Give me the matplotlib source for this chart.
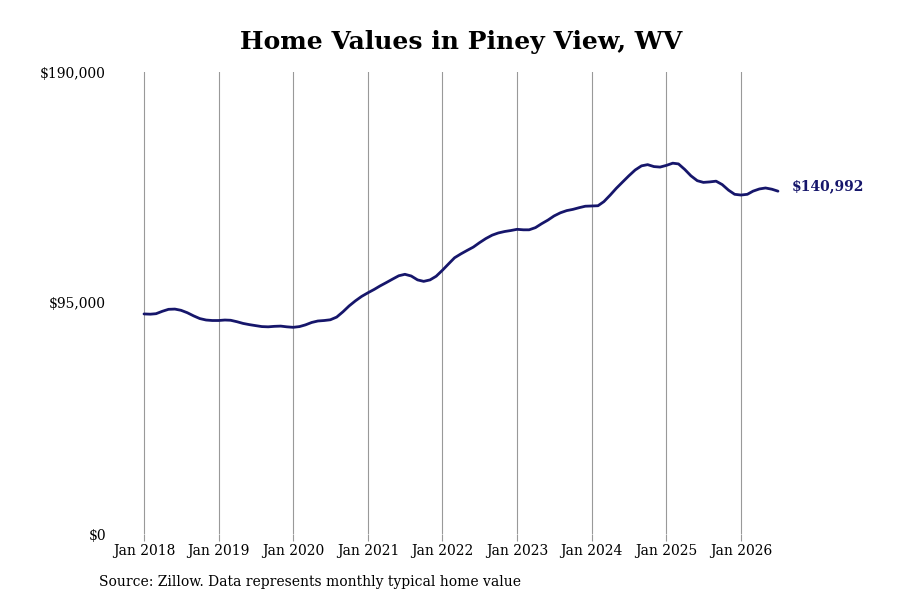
import matplotlib
matplotlib.use("Agg")
import matplotlib.pyplot as plt
import matplotlib.dates as mdates
import numpy as np
import pandas as pd

start_month = "2018-01-01"
values_k = [
    # 2018
    90.5, 90.4, 90.6, 91.6, 92.4, 92.5, 92.0, 91.0, 89.7, 88.6, 88.0, 87.8,
    # 2019
    87.8, 88.0, 87.9, 87.3, 86.6, 86.1, 85.7, 85.3, 85.2, 85.4, 85.5, 85.2,
    # 2020
    85.0, 85.3, 86.0, 87.0, 87.6, 87.8, 88.1, 89.2, 91.4, 93.8, 95.9, 97.7,
    # 2021
    99.2, 100.6, 102.0, 103.4, 104.8, 106.2, 106.8, 106.1, 104.5, 103.9, 104.5, 106.0,
    # 2022
    108.5, 111.2, 113.6, 115.2, 116.6, 118.0, 119.8, 121.5, 122.9, 123.8, 124.4, 124.8,
    # 2023
    125.3, 125.1, 125.1, 126.0, 127.6, 129.1, 130.8, 132.1, 133.0, 133.5, 134.2, 134.8,
    # 2024
    134.9, 135.0, 136.7, 139.4, 142.2, 144.8, 147.3, 149.7, 151.4, 151.9, 151.1, 150.9,
    # 2025
    151.6, 152.5, 152.2, 149.9, 147.3, 145.3, 144.6, 144.8, 145.1, 143.7, 141.4, 139.7,
    # 2026
    139.4, 139.7, 141.0, 141.9, 142.3, 141.8, 140.992,
]
y_ticks = [0, 95000, 190000]
y_tick_labels = ["$0", "$95,000", "$190,000"]
x_tick_years = list(range(2018, 2027))
title = "Home Values in Piney View, WV"
source = "Source: Zillow. Data represents monthly typical home value"

dates = pd.date_range(start_month, periods=len(values_k), freq="MS")
values = np.array(values_k) * 1000

plt.rcParams['font.family'] = ['DejaVu Serif']
fig = plt.figure(figsize=(9, 6), dpi=100)
ax = fig.add_axes([0.12, 0.11, 0.76, 0.77])

line_color = "#16166b"
ax.plot(dates, values, color=line_color, lw=2.0, solid_capstyle='round')

ticks = [pd.Timestamp(f"{y}-01-01") for y in x_tick_years]
ax.set_xticks(ticks)
ax.set_xticklabels([f"Jan {y}" for y in x_tick_years], fontsize=10)
ax.set_yticks(y_ticks)
ax.set_yticklabels(y_tick_labels, fontsize=10)
ax.set_ylim(0, 190000)

# x mapping: Jan 2018 -> px 144, Jan 2026 -> px 741
t0 = mdates.date2num(ticks[0]); t1 = mdates.date2num(ticks[-1])
ppd = (741 - 144) / (t1 - t0)
left_px = 0.12 * 900; right_px = 0.88 * 900
ax.set_xlim(t0 - (144 - left_px) / ppd, t0 + (right_px - 144) / ppd)

ax.grid(axis='x', color='#999999', lw=0.8)
ax.grid(axis='y', visible=False)
for s in ax.spines.values():
    s.set_visible(False)
ax.tick_params(axis='x', length=5, color='#999999', pad=2)
ax.tick_params(axis='y', length=0, pad=1.5)

ax.annotate(f"${values[-1]:,.0f}", xy=(dates[-1], values[-1]), xytext=(10, 3.5),
            textcoords='offset points', fontsize=10, fontweight='bold',
            color=line_color, va='center', ha='left')

fig.text(0.512, 0.93, title, ha='center', va='center', fontsize=18, fontweight='bold')
fig.text(0.11, 0.03, source, ha='left', va='center', fontsize=10)

fig.savefig("out.png", dpi=100)
